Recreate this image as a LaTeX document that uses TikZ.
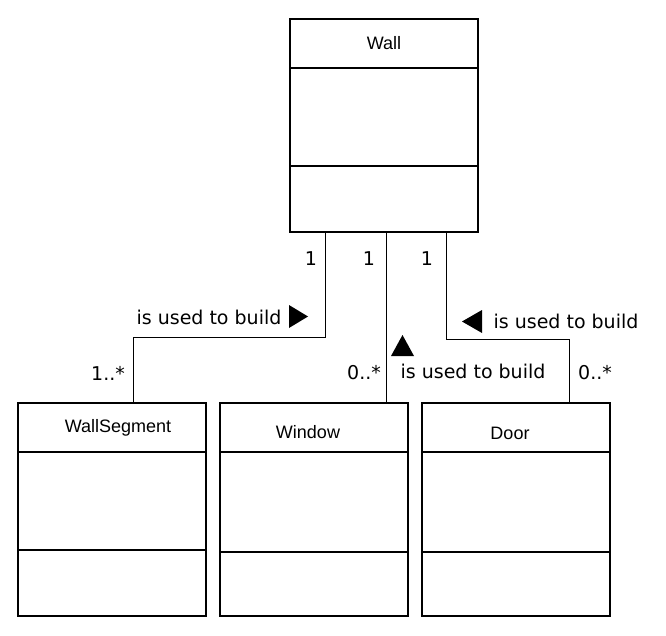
\documentclass[tikz,border=0pt]{standalone}
\usepackage{fontspec}
\setmainfont{Liberation Sans}
\newfontfamily\labelfont{DejaVu Sans}
\tikzset{
  classbox/.style={draw, line width=1.6pt, minimum width=188pt, minimum height=213pt, inner sep=0pt},
  classname/.style={font=\fontsize{18}{20}\selectfont, inner sep=0pt},
  assoc/.style={line width=1pt},
  mult/.style={font=\labelfont\fontsize{19}{21}\selectfont, inner sep=0pt},
}
\begin{document}
\begin{tikzpicture}[x=1pt,y=-1pt]
\useasboundingbox (0,0) rectangle (666,636);
\node[classbox] (wall)   at (384,125.5) {};
\node[classbox] (seg)    at (112,509.5) {};
\node[classbox] (window) at (314,509.5) {};
\node[classbox] (door)   at (516,509.5) {};
\foreach \c/\d in {wall/148, seg/148, window/150, door/150} {
  \draw[line width=1.6pt] ([yshift=-50pt]\c.north west) -- ([yshift=-50pt]\c.north east);
  \draw[line width=1.6pt] ([yshift=-\d pt]\c.north west) -- ([yshift=-\d pt]\c.north east);
}
\node[classname] (wallname)   at (384,43)  {Wall};
\node[classname] (segname)    at (118,428) {WallSegment};
\node[classname] (windowname) at (308,432) {Window};
\node[classname] (doorname)   at (510,433) {Door};
% associations
\draw[assoc] ([xshift=-59pt]wall.south) -- ++(0,105) -| ([xshift=21pt]seg.north);
\draw[assoc] ([xshift=2pt]wall.south) -- ([xshift=72pt]window.north);
\draw[assoc] ([xshift=62pt]wall.south) -- ++(0,107) -| ([xshift=53pt]door.north);
\node[mult] (m1) at (311,259) {1};
\node[mult] (m2) at (369,259) {1};
\node[mult] (m3) at (427,259) {1};
\node[mult] (m4) at (108,373) {1..*};
\node[mult] (m5) at (364,373) {0..*};
\node[mult] (m6) at (595,373) {0..*};
\node[mult] (segrole)    at (209,317) {is used to build};
\node[mult] (windowrole) at (473,371) {is used to build};
\node[mult] (doorrole)   at (566,321) {is used to build};
\fill (289,305) -- (308,316.5) -- (289,328) -- cycle;
\fill (482,310) -- (462,321.5) -- (482,333) -- cycle;
\fill (391,356) -- (402.5,335) -- (414,356) -- cycle;
\end{tikzpicture}
\end{document}
